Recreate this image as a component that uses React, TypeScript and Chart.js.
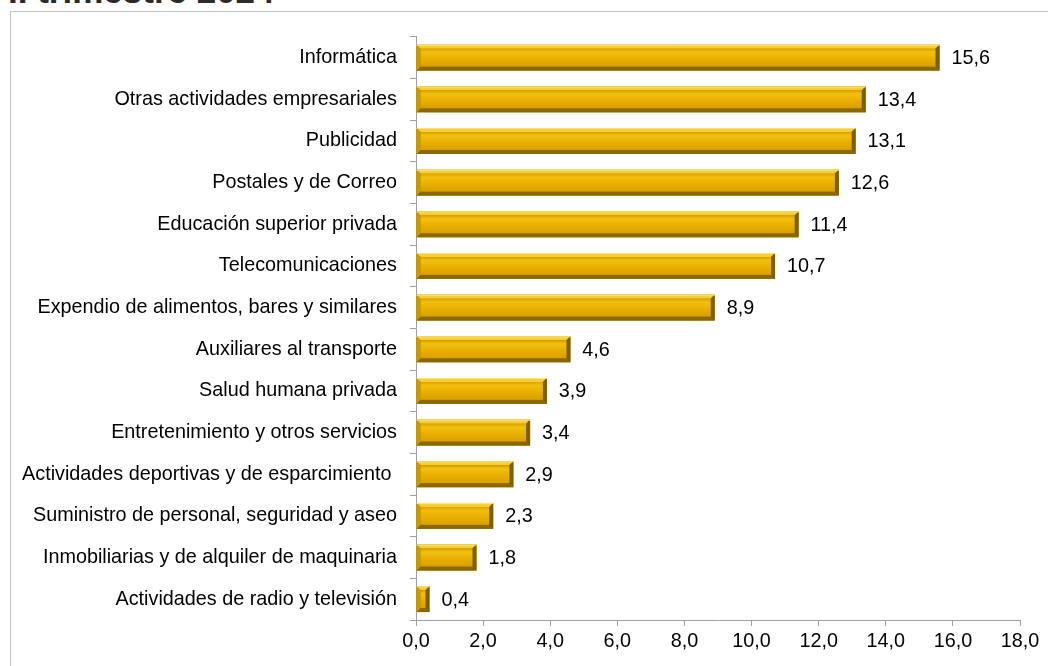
import React, { useEffect, useRef } from "react";
import { Chart, registerables } from "chart.js";

Chart.register(...registerables);

const titleText = "II trimestre 2024";

const categories = [
  "Informática",
  "Otras actividades empresariales",
  "Publicidad",
  "Postales y de Correo",
  "Educación superior privada",
  "Telecomunicaciones",
  "Expendio de alimentos, bares y similares",
  "Auxiliares al transporte",
  "Salud humana privada",
  "Entretenimiento y otros servicios",
  "Actividades deportivas y de esparcimiento ",
  "Suministro de personal, seguridad y aseo",
  "Inmobiliarias y de alquiler de maquinaria",
  "Actividades de radio y televisión",
];

const values = [15.6, 13.4, 13.1, 12.6, 11.4, 10.7, 8.9, 4.6, 3.9, 3.4, 2.9, 2.3, 1.8, 0.4];

const xMin = 0;
const xMax = 18;
const xStep = 2;

const FONT = "'Liberation Sans', Arial, sans-serif";
const FSIZE = 19.8;
const fmt = (v: number) => v.toFixed(1).replace(".", ",");

const bevelPlugin = {
  id: "bevelBars",
  afterDatasetsDraw(chart: any) {
    const ctx = chart.ctx;
    const meta = chart.getDatasetMeta(0);
    meta.data.forEach((el: any) => {
      const { x, y, base, height } = el.getProps(["x", "y", "base", "height"], true);
      const l = Math.min(base, x);
      const r = Math.max(base, x);
      const t = y - height / 2;
      const b = y + height / 2;
      const bv = Math.min(4, (r - l) / 2);
      ctx.save();
      ctx.fillStyle = "#A07A00";
      ctx.fillRect(l, t, r - l, b - t);
      const poly = (pts: number[][], c: string) => {
        ctx.beginPath();
        ctx.moveTo(pts[0][0], pts[0][1]);
        for (let i = 1; i < pts.length; i++) ctx.lineTo(pts[i][0], pts[i][1]);
        ctx.closePath();
        ctx.fillStyle = c;
        ctx.fill();
      };
      poly([[l, t], [r, t], [r - bv, t + bv], [l + bv, t + bv]], "#F7CF30");
      poly([[l, b], [r, b], [r - bv, b - bv], [l + bv, b - bv]], "#8A6700");
      poly([[l, t], [l + bv, t + bv], [l + bv, b - bv], [l, b]], "#C99A00");
      poly([[r, t], [r - bv, t + bv], [r - bv, b - bv], [r, b]], "#7E5E00");
      const g = ctx.createLinearGradient(0, t + bv, 0, b - bv);
      g.addColorStop(0, "#D9A200");
      g.addColorStop(0.2, "#F3C010");
      g.addColorStop(0.55, "#E9B000");
      g.addColorStop(1, "#D8A000");
      ctx.fillStyle = g;
      ctx.fillRect(l + bv, t + bv, r - l - 2 * bv, b - t - 2 * bv);
      ctx.strokeStyle = "rgba(255,230,140,0.9)";
      ctx.lineWidth = 1;
      ctx.beginPath();
      ctx.moveTo(l, t + 0.5);
      ctx.lineTo(r, t + 0.5);
      ctx.stroke();
      ctx.restore();
    });
  },
};

const labelPlugin = {
  id: "valueLabels",
  afterDatasetsDraw(chart: any) {
    const ctx = chart.ctx;
    const meta = chart.getDatasetMeta(0);
    ctx.save();
    ctx.font = `${FSIZE}px ${FONT}`;
    ctx.fillStyle = "#000";
    ctx.textAlign = "left";
    ctx.textBaseline = "middle";
    meta.data.forEach((el: any, i: number) => {
      const { x, y } = el.getProps(["x", "y"], true);
      ctx.fillText(fmt(values[i]), x + 12, y + 1);
    });
    ctx.restore();
  },
};

export default function App() {
  const ref = useRef<HTMLCanvasElement>(null);
  useEffect(() => {
    if (!ref.current) return;
    const chart = new Chart(ref.current, {
      type: "bar",
      data: {
        labels: categories,
        datasets: [
          {
            data: values,
            backgroundColor: "#E6AC00",
            borderWidth: 0,
            categoryPercentage: 0.62,
            barPercentage: 1,
          },
        ],
      },
      options: {
        indexAxis: "y",
        animation: false,
        responsive: false,
        maintainAspectRatio: false,
        layout: { padding: { left: 0, right: 28, top: 24, bottom: 0 } },
        plugins: {
          legend: { display: false },
          tooltip: { enabled: false },
          title: { display: false },
        },
        scales: {
          x: {
            min: xMin,
            max: xMax,
            ticks: {
              stepSize: xStep,
              color: "#000",
              font: { family: FONT, size: FSIZE },
              padding: 4,
              callback: (v: any) => fmt(Number(v)),
            },
            grid: {
              drawOnChartArea: false,
              drawTicks: true,
              tickLength: 6,
              color: "#A0A0A0",
            },
            border: { display: true, color: "#A0A0A0", width: 1 },
            afterFit: (s: any) => {
              s.height = 46;
            },
          },
          y: {
            ticks: {
              color: "#000",
              font: { family: FONT, size: FSIZE },
              padding: 13,
              autoSkip: false,
            },
            grid: {
              drawOnChartArea: false,
              drawTicks: true,
              tickLength: 6,
              color: "#A0A0A0",
              offset: true,
            },
            border: { display: true, color: "#A0A0A0", width: 1 },
            afterFit: (s: any) => {
              s.width = 405;
            },
          },
        },
      },
      plugins: [bevelPlugin, labelPlugin],
    });
    return () => chart.destroy();
  }, []);

  return (
    <div
      style={{
        position: "fixed",
        left: 0,
        top: 0,
        width: 1048,
        height: 666,
        overflow: "hidden",
        background: "#fff",
      }}
    >
      <div
        style={{
          position: "absolute",
          left: 8,
          top: -27,
          fontFamily: FONT,
          fontWeight: "bold",
          fontSize: 35,
          lineHeight: "35px",
          color: "#2b2b2b",
          whiteSpace: "nowrap",
        }}
      >
        {titleText}
      </div>
      <div
        style={{
          position: "absolute",
          left: 10,
          top: 11,
          width: 1100,
          height: 700,
          borderTop: "1px solid #C4C4C4",
          borderLeft: "1px solid #C4C4C4",
          background: "#fff",
        }}
      >
        <canvas ref={ref} width={1037} height={654} style={{ display: "block" }} />
      </div>
    </div>
  );
}
